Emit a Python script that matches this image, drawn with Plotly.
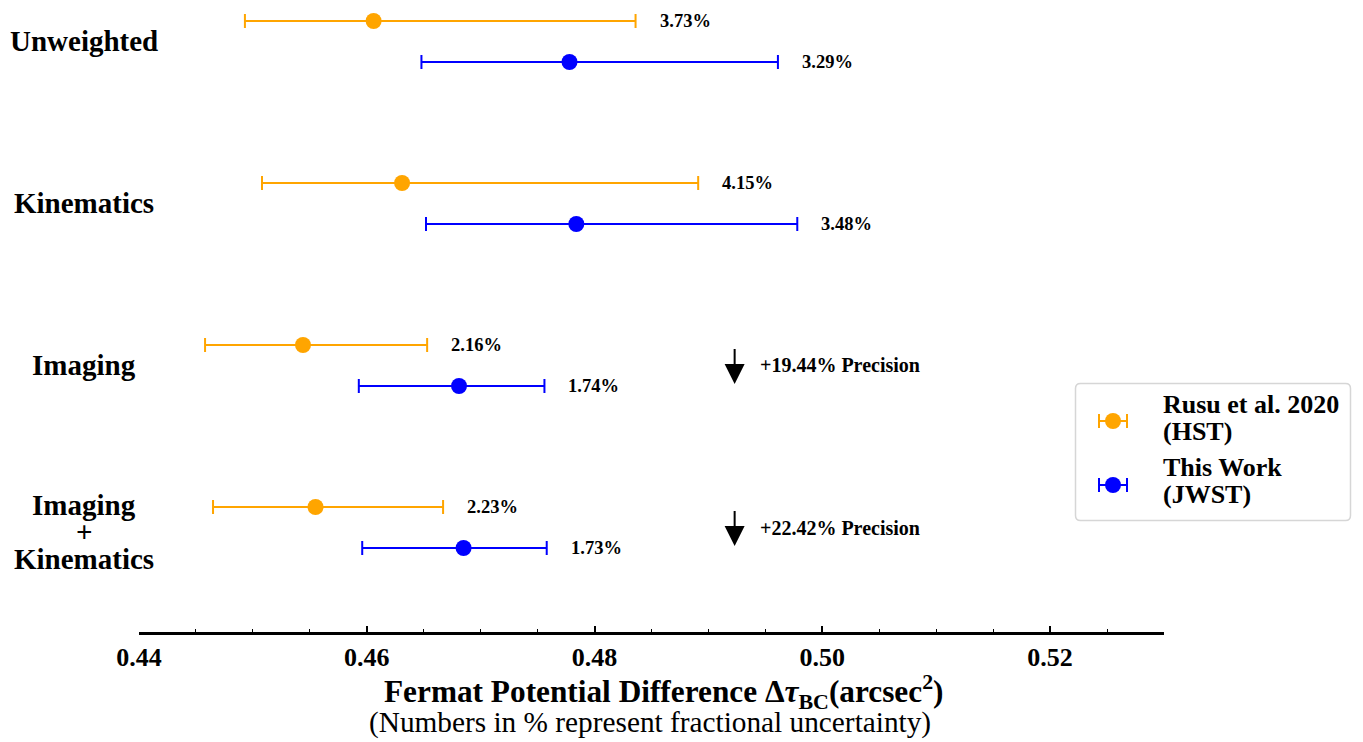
import plotly.graph_objects as go

# Lens-model variants and Fermat potential difference estimates (arcsec^2)
methods = ["Unweighted", "Kinematics", "Imaging", "Imaging\n+\nKinematics"]
hst_values = [0.4606, 0.4631, 0.4544, 0.4555]
hst_err_minus = [0.0113, 0.0123, 0.0086, 0.0090]
hst_err_plus = [0.0230, 0.0260, 0.0109, 0.0112]
hst_pct = [3.73, 4.15, 2.16, 2.23]
jwst_values = [0.4778, 0.4784, 0.4681, 0.4685]
jwst_err_minus = [0.0130, 0.0132, 0.0088, 0.0089]
jwst_err_plus = [0.0183, 0.0194, 0.0075, 0.0073]
jwst_pct = [3.29, 3.48, 1.74, 1.73]
precision_groups = [2, 3]
x_ticks = [0.44, 0.46, 0.48, 0.50, 0.52]

W, H = 1363, 742
ORANGE = "#FFA500"
BLUE = "#0000FF"
FONT = "Liberation Serif, Times New Roman, serif"

GROUP_PX = 162          # pixel spacing between method groups
ROW_OFF = 0.1265        # HST / JWST offset from group centre (group units)
groups = list(range(len(methods)))
hst_y = [g - ROW_OFF for g in groups]
jwst_y = [g + ROW_OFF for g in groups]

fig = go.Figure()


def add_series(xv, yv, em, ep, color, name, xa="x", ya="y"):
    fig.add_trace(go.Scatter(
        x=xv, y=yv, mode="markers", name=name, showlegend=False,
        xaxis=xa, yaxis=ya,
        marker=dict(color=color, size=16, line=dict(width=0)),
        error_x=dict(type="data", symmetric=False, array=ep, arrayminus=em,
                     visible=True, color=color, thickness=2, width=7),
    ))


add_series(hst_values, hst_y, hst_err_minus, hst_err_plus, ORANGE,
           "Rusu et al. 2020 (HST)")
add_series(jwst_values, jwst_y, jwst_err_minus, jwst_err_plus, BLUE,
           "This Work (JWST)")

ann = []
# fractional uncertainty labels next to each error bar
for v, e, p, y in zip(hst_values + jwst_values, hst_err_plus + jwst_err_plus,
                      hst_pct + jwst_pct, hst_y + jwst_y):
    ann.append(dict(x=v + e, y=y, xref="x", yref="y", text=f"<b>{p:.2f}%</b>",
                    showarrow=False, xanchor="left", yanchor="middle", xshift=22,
                    font=dict(family=FONT, size=18.5, color="black")))

# precision gain arrows
ARROW_X = 0.4923
for g in precision_groups:
    gain = (hst_pct[g] - jwst_pct[g]) / hst_pct[g] * 100
    ann.append(dict(x=ARROW_X, y=g + 0.114, xref="x", yref="y", text=" ",
                    font=dict(size=1), showarrow=True, ax=0, ay=-37,
                    arrowhead=2, arrowsize=2, arrowwidth=2,
                    arrowcolor="black", standoff=0))
    ann.append(dict(x=ARROW_X, y=g, xref="x", yref="y",
                    text=f"<b>+{gain:.2f}% Precision</b>", showarrow=False,
                    xanchor="left", yanchor="middle", xshift=23,
                    font=dict(family=FONT, size=20, color="black")))

# method names on the left, one annotation per line
LINE_PX = 27
for g, m in zip(groups, methods):
    lines = m.split("\n")
    n = len(lines)
    for i, line in enumerate(lines):
        off = (i - (n - 1) / 2) * LINE_PX + (4 if n > 1 else 0)
        ann.append(dict(x=84 / W, y=g + off / GROUP_PX, xref="paper", yref="y",
                        text=f"<b>{line}</b>", showarrow=False,
                        xanchor="center", yanchor="middle",
                        font=dict(family=FONT, size=29, color="black")))

# axis title (two lines)
ann.append(dict(x=664 / W, y=1 - 691 / H, xref="paper", yref="paper",
                text="<b>Fermat Potential Difference Δ<i>τ</i><sub>BC</sub>(arcsec<sup>2</sup>)</b>",
                showarrow=False, xanchor="center", yanchor="middle",
                font=dict(family=FONT, size=31.3, color="black")))
ann.append(dict(x=650 / W, y=1 - 722 / H, xref="paper", yref="paper",
                text="(Numbers in % represent fractional uncertainty)",
                showarrow=False, xanchor="center", yanchor="middle",
                font=dict(family=FONT, size=29.3, color="black")))

# legend: pixel-coordinate overlay axes
add_series([1113], [421], [14], [14], ORANGE, "legend HST", "x2", "y2")
add_series([1113], [485], [14], [14], BLUE, "legend JWST", "x2", "y2")
legend_lines = [("Rusu et al. 2020", 404), ("(HST)", 431),
                ("This Work", 467), ("(JWST)", 494)]
for t, yy in legend_lines:
    ann.append(dict(x=1161, y=yy, xref="x2", yref="y2", text=f"<b>{t}</b>",
                    showarrow=False, xanchor="left", yanchor="middle",
                    font=dict(family=FONT, size=26, color="black")))

x0, x1, y0, y1, r = 1075.5, 1350.5, 383.5, 520.5, 5
box = (f"M{x0+r},{y0} L{x1-r},{y0} Q{x1},{y0} {x1},{y0+r} L{x1},{y1-r} "
       f"Q{x1},{y1} {x1-r},{y1} L{x0+r},{y1} Q{x0},{y1} {x0},{y1-r} "
       f"L{x0},{y0+r} Q{x0},{y0} {x0+r},{y0} Z")
shapes = [dict(type="path", path=box, xref="x2", yref="y2",
               line=dict(color="#d6d6d6", width=1.5),
               fillcolor="rgba(255,255,255,0.8)", layer="below")]

fig.update_layout(
    width=W, height=H,
    margin=dict(l=0, r=0, t=0, b=0, autoexpand=False),
    paper_bgcolor="white", plot_bgcolor="rgba(0,0,0,0)",
    showlegend=False,
    annotations=ann, shapes=shapes,
    xaxis=dict(domain=[139 / W, 1164 / W], range=[0.44, 0.53], anchor="y",
               automargin=False,
               tickvals=x_ticks, ticktext=[f"{t:.2f}" for t in x_ticks],
               tickfont=dict(family=FONT, size=26, color="black", weight="bold"),
               ticks="inside", ticklen=6, tickwidth=1.5, tickcolor="black",
               minor=dict(dtick=0.005, tick0=0.44, ticks="inside", ticklen=3,
                          tickwidth=1, tickcolor="black"),
               showline=True, linewidth=2.5, linecolor="black",
               showgrid=False, zeroline=False),
    yaxis=dict(domain=[1 - 632 / H, 1], range=[3.645, -0.256], anchor="x",
               automargin=False,
               visible=False, showgrid=False, zeroline=False),
    xaxis2=dict(domain=[0, 1], range=[0, W], anchor="y2", visible=False,
                automargin=False, showgrid=False, zeroline=False),
    yaxis2=dict(domain=[0, 1], range=[H, 0], anchor="x2", visible=False,
                automargin=False, showgrid=False, zeroline=False),
)

fig.write_html("out.html")
